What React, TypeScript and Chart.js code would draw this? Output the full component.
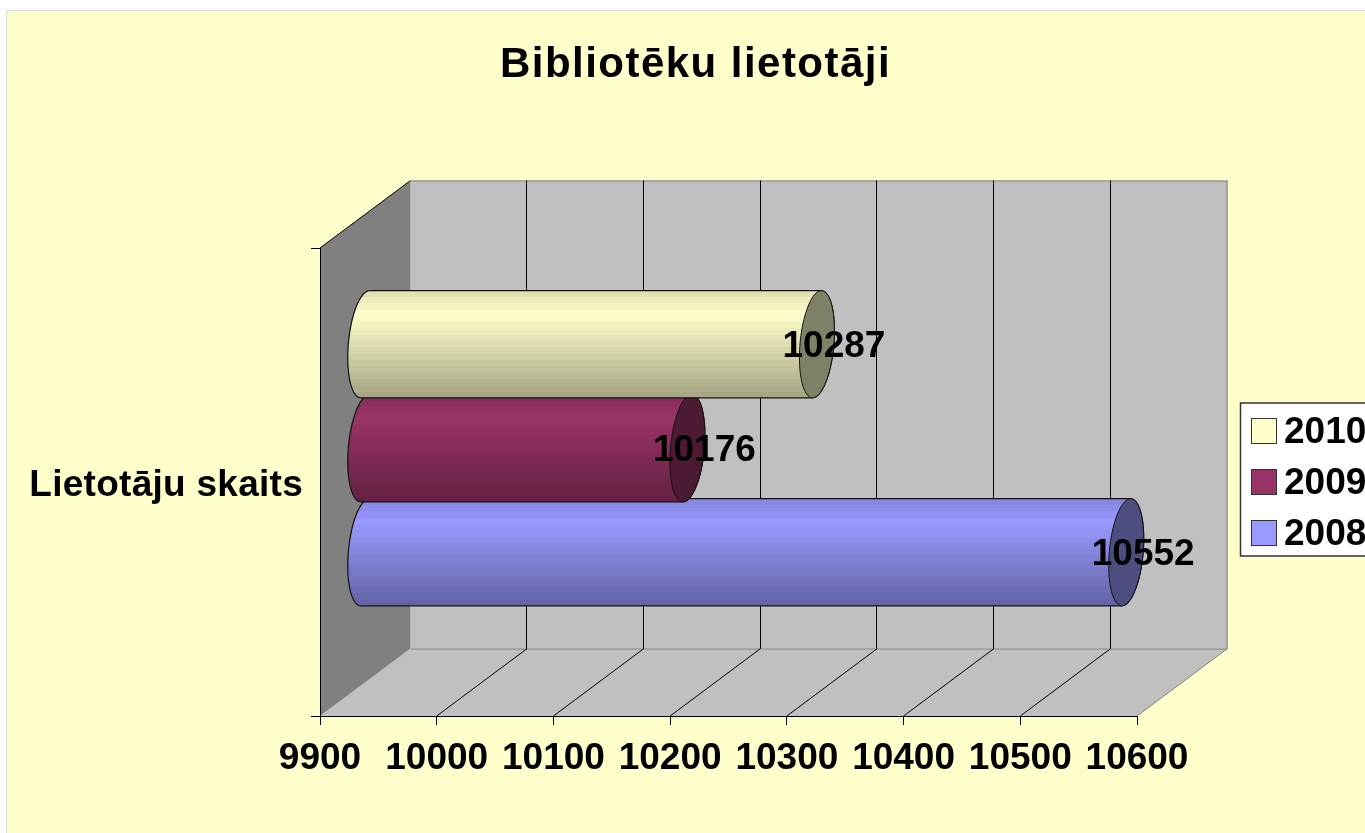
import React, { useEffect, useRef } from "react";
import { Chart, registerables } from "chart.js";

Chart.register(...registerables);

const categories = ["Lietotāju skaits"];
const years = ["2010", "2009", "2008"];
const values2010 = [10287];
const values2009 = [10176];
const values2008 = [10552];
const seriesColors = ["#FFFFCC", "#993366", "#9999FF"];
const xTicksMin = 9900;
const xTicksMax = 10600;
const xTicksStep = 100;

const FONT = '"Liberation Sans", Arial, sans-serif';
const DEPTH_X = 90.5;
const DEPTH_Y = 67.5;
const CAP_RX = 17.5;
const CAP_SKEW = -13.4;

function shade(hex: string, f: number) {
  const n = parseInt(hex.slice(1), 16);
  const r = Math.round(((n >> 16) & 255) * f);
  const g = Math.round(((n >> 8) & 255) * f);
  const b = Math.round((n & 255) * f);
  return `rgb(${r},${g},${b})`;
}

function line(ctx: CanvasRenderingContext2D, x0: number, y0: number, x1: number, y1: number, color: string, w = 1) {
  ctx.strokeStyle = color;
  ctx.lineWidth = w;
  ctx.beginPath();
  ctx.moveTo(x0, y0);
  ctx.lineTo(x1, y1);
  ctx.stroke();
}

// Runs a library draw method with a letter spacing set on the canvas.
function withSpacing(target: any, method: string, ctx: any, spacing: string) {
  if (target.__spaced) return;
  target.__spaced = true;
  const orig = target[method];
  target[method] = function (...a: any[]) {
    const prev = ctx.letterSpacing;
    ctx.letterSpacing = spacing;
    orig.apply(this, a);
    ctx.letterSpacing = prev;
  };
}

const scenePlugin = {
  id: "scene",
  beforeDraw(chart: any) {
    const { ctx, chartArea, scales } = chart;
    const { left, right, top, bottom } = chartArea;
    const W = chart.width;
    const H = chart.height;
    // the page and the panel
    ctx.save();
    ctx.fillStyle = "#FFFFFF";
    ctx.fillRect(0, 0, W, H);
    ctx.fillStyle = "#FFFFCC";
    ctx.fillRect(7, 10, W - 7, H - 10);
    line(ctx, 6.5, 10, 6.5, H, "#DADADA");
    line(ctx, 6.5, 10.5, W, 10.5, "#DADADA");

    // 3D walls
    const bl = left + DEPTH_X;
    const br = right + DEPTH_X;
    const bt = top - DEPTH_Y;
    const bb = bottom - DEPTH_Y;
    ctx.fillStyle = "#C0C0C0";
    ctx.fillRect(bl, bt, br - bl, bb - bt);
    ctx.beginPath();
    ctx.moveTo(left, bottom);
    ctx.lineTo(right, bottom);
    ctx.lineTo(br, bb);
    ctx.lineTo(bl, bb);
    ctx.closePath();
    ctx.fill();
    ctx.fillStyle = "#808080";
    ctx.beginPath();
    ctx.moveTo(left, top);
    ctx.lineTo(bl, bt);
    ctx.lineTo(bl, bb);
    ctx.lineTo(left, bottom);
    ctx.closePath();
    ctx.fill();

    line(ctx, bl, bt + 0.5, br, bt + 0.5, "#808080");
    line(ctx, br - 0.5, bt, br - 0.5, bb, "#808080");
    line(ctx, bl, bb + 0.5, br, bb + 0.5, "#808080");
    line(ctx, right, bottom, br, bb, "#808080");
    line(ctx, left, top, bl, bt, "#000000");

    const x = scales.x;
    for (const t of x.ticks) {
      if (t.value === xTicksMin || t.value === xTicksMax) continue;
      const px = x.getPixelForValue(t.value);
      line(ctx, Math.round(px + DEPTH_X) - 0.5, bt, Math.round(px + DEPTH_X) - 0.5, bb, "#000000");
      line(ctx, px, bottom, px + DEPTH_X, bb, "#000000");
    }
    ctx.restore();

    // title is centred on the whole panel, which runs past the page
    chart.titleBlock.left = 7;
    chart.titleBlock.right = 1384;
    withSpacing(chart.titleBlock, "draw", ctx, "1.47px");
    withSpacing(scales.y, "drawLabels", ctx, "0.27px");
  },
  beforeDatasetDraw(chart: any, args: any) {
    const { ctx } = chart;
    const ds = chart.data.datasets[args.index];
    const el = args.meta.data[0];
    const color = ds.backgroundColor as string;
    const hh = el.height / 2;
    const cy = el.y - DEPTH_Y / 2;
    const cl = chart.scales.x.getPixelForValue(xTicksMin) + DEPTH_X / 2;
    const cr = el.x + DEPTH_X / 2;
    const rr = Math.sqrt(hh * hh - CAP_SKEW * CAP_SKEW);
    const phi = Math.atan2(rr, CAP_SKEW);
    const pt = (c: number, t: number) => [c + CAP_RX * Math.cos(t), cy + CAP_SKEW * Math.cos(t) + rr * Math.sin(t)];
    const N = 60;

    ctx.save();
    // body
    ctx.beginPath();
    let p = pt(cl, phi + Math.PI);
    ctx.moveTo(p[0], p[1]);
    for (let i = 0; i <= N; i++) {
      p = pt(cr, phi + Math.PI + (Math.PI * i) / N);
      ctx.lineTo(p[0], p[1]);
    }
    for (let i = 0; i <= N; i++) {
      p = pt(cl, phi + (Math.PI * i) / N);
      ctx.lineTo(p[0], p[1]);
    }
    ctx.closePath();
    // banded shading, as the 256-colour original has it
    const g = ctx.createLinearGradient(0, cy - hh, 0, cy + hh);
    const bands = 17;
    for (let i = 0; i < bands; i++) {
      const u = (i + 0.5) / bands;
      const f = u < 0.22 ? 0.87 + (0.13 * u) / 0.22 : 1 - (0.36 * (u - 0.22)) / 0.78;
      const c = shade(color, f);
      g.addColorStop(i / bands, c);
      g.addColorStop((i + 1) / bands, c);
    }
    ctx.fillStyle = g;
    ctx.fill();
    ctx.strokeStyle = "#111111";
    ctx.lineWidth = 1.2;
    ctx.stroke();
    // end cap
    ctx.beginPath();
    for (let i = 0; i <= 2 * N; i++) {
      p = pt(cr, (Math.PI * i) / N);
      if (i === 0) ctx.moveTo(p[0], p[1]);
      else ctx.lineTo(p[0], p[1]);
    }
    ctx.closePath();
    ctx.fillStyle = shade(color, 0.5);
    ctx.fill();
    ctx.lineWidth = 1;
    ctx.stroke();
    ctx.restore();
    return false;
  },
  afterDatasetsDraw(chart: any) {
    const { ctx } = chart;
    ctx.save();
    // value labels
    ctx.font = `bold 37px ${FONT}`;
    ctx.fillStyle = "#000000";
    ctx.textAlign = "center";
    ctx.textBaseline = "middle";
    chart.data.datasets.forEach((ds: any, i: number) => {
      const el = chart.getDatasetMeta(i).data[0];
      ctx.fillText(String(ds.data[0]), el.x + DEPTH_X / 2 + 17, el.y - DEPTH_Y / 2 + 3);
    });
    // legend, cut by the page edge as in the reference
    const bx = 1240.5;
    const by = 403;
    ctx.fillStyle = "#FFFFFF";
    ctx.fillRect(bx, by, 200, 153);
    ctx.strokeStyle = "#333333";
    ctx.lineWidth = 1.5;
    ctx.strokeRect(bx, by, 200, 153);
    ctx.textAlign = "left";
    chart.data.datasets.forEach((ds: any, i: number) => {
      const sy = 418 + i * 51;
      ctx.fillStyle = ds.backgroundColor;
      ctx.fillRect(1251.5, sy, 25, 25);
      ctx.strokeStyle = "#333333";
      ctx.lineWidth = 1;
      ctx.strokeRect(1251.5, sy + 0.5, 25, 25);
      ctx.fillStyle = "#000000";
      ctx.fillText(ds.label, 1284, sy + 14.5);
    });
    ctx.restore();
  },
};

export default function App() {
  const ref = useRef<HTMLCanvasElement>(null);
  useEffect(() => {
    document.body.style.margin = "0";
    const seriesValues = [values2010, values2009, values2008];
    const chart = new Chart(ref.current!, {
      type: "bar",
      data: {
        labels: categories,
        datasets: years.map((y, i) => ({
          label: y,
          data: seriesValues[i],
          backgroundColor: seriesColors[i],
          categoryPercentage: 0.6667,
          barPercentage: 1.03,
        })),
      },
      plugins: [scenePlugin],
      options: {
        indexAxis: "y",
        animation: false,
        responsive: false,
        layout: { padding: { left: 0, right: 228, top: 0, bottom: 0 } },
        plugins: {
          legend: { display: false },
          tooltip: { enabled: false },
          title: {
            display: true,
            text: "Bibliotēku lietotāji",
            color: "#000000",
            font: { family: FONT, size: 42, weight: "bold", lineHeight: 1.2 },
            padding: { top: 40, bottom: 157.6 },
          },
        },
        scales: {
          x: {
            type: "linear",
            min: xTicksMin,
            max: xTicksMax,
            afterFit: (s: any) => {
              s.height = 117;
            },
            ticks: {
              stepSize: xTicksStep,
              autoSkip: false,
              maxRotation: 0,
              minRotation: 0,
              color: "#000000",
              padding: 12,
              font: { family: FONT, size: 37, weight: "bold" },
              callback: (v: any) => String(v),
            },
            grid: { drawOnChartArea: false, drawTicks: true, tickLength: 9, tickColor: "#000000", tickWidth: 1 },
            border: { display: true, color: "#000000", width: 1 },
          },
          y: {
            type: "category",
            afterFit: (s: any) => {
              s.width = 320;
            },
            ticks: {
              color: "#000000",
              padding: 8,
              labelOffset: 4,
              font: { family: FONT, size: 37, weight: "bold" },
            },
            grid: { offset: true, drawOnChartArea: false, drawTicks: true, tickLength: 9, tickColor: "#000000", tickWidth: 1 },
            border: { display: true, color: "#000000", width: 1 },
          },
        },
      },
    } as any);
    return () => chart.destroy();
  }, []);
  return (
    <canvas
      ref={ref}
      width={1365}
      height={833}
      style={{ display: "block", position: "absolute", left: 0, top: 0 }}
    />
  );
}
